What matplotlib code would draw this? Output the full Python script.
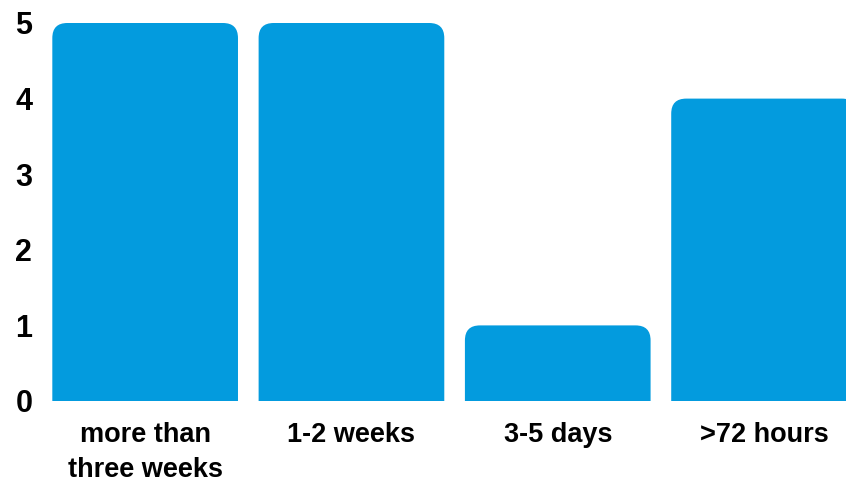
import matplotlib
matplotlib.use('Agg')
import matplotlib.pyplot as plt
from matplotlib.patches import FancyBboxPatch

# data
categories = ["more than\nthree weeks", "1-2 weeks", "3-5 days", ">72 hours"]
counts = [5, 5, 1, 4]
y_ticks = [0, 1, 2, 3, 4, 5]

BAR_COLOR = "#039BDE"
W, H = 846, 484

plt.rcParams["font.family"] = ["Liberation Sans", "DejaVu Sans"]

fig = plt.figure(figsize=(W / 100, H / 100), dpi=100)
fig.patch.set_facecolor("white")

# axes placed in pixel terms
left_px, right_px = 42, 846
bottom_px = 401
unit_y = 75.6
ymax = 5.25
ax = fig.add_axes([left_px / W, (H - bottom_px) / H,
                   (right_px - left_px) / W, unit_y * ymax / H])

step_px = 206.3
x_right = -0.5 + (right_px - left_px) / step_px
ax.set_xlim(-0.5, x_right)
ax.set_ylim(0, ymax)

bars = ax.bar(range(len(counts)), counts, width=0.9, color=BAR_COLOR)

# swap plain rectangles for rounded-top ones (bottom corners hidden below 0)
radius_px = 15
rx = radius_px / step_px
ry = radius_px / unit_y
for b in bars:
    x, w, h = b.get_x(), b.get_width(), b.get_height()
    b.set_visible(False)
    p = FancyBboxPatch((x, -ry), w, h + ry,
                       boxstyle=f"round,pad=0,rounding_size={rx}",
                       mutation_aspect=ry / rx,
                       facecolor=BAR_COLOR, edgecolor="none")
    ax.add_patch(p)

ax.set_xticks(range(len(categories)))
ax.set_xticklabels(categories, fontsize=19.5, fontweight="bold",
                   linespacing=1.45, va="top")
ax.set_yticks(y_ticks)
ax.set_yticklabels([str(t) for t in y_ticks], fontsize=22, fontweight="bold")
ax.tick_params(axis="both", length=0)
ax.tick_params(axis="x", pad=15)
ax.tick_params(axis="y", pad=7)
for s in ax.spines.values():
    s.set_visible(False)

fig.savefig("out.png", dpi=100, facecolor="white")
